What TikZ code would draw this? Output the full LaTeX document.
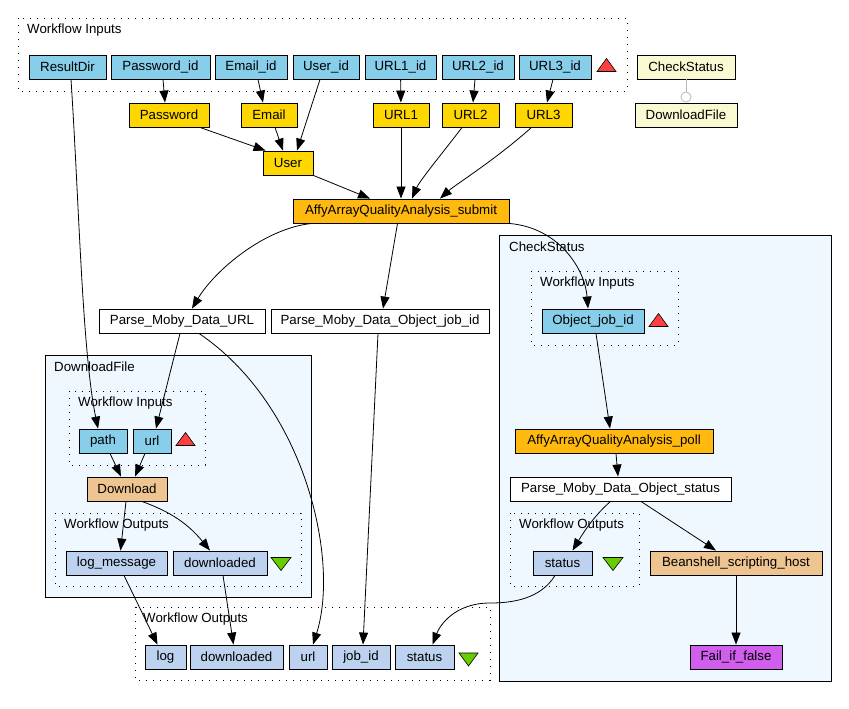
\documentclass[tikz,border=0pt]{standalone}
\usepackage{fontspec}
\setsansfont{Liberation Sans}
\usetikzlibrary{arrows.meta}

\definecolor{inportc}{RGB}{135,206,235}
\definecolor{outportc}{RGB}{188,210,238}
\definecolor{constc}{RGB}{255,215,0}
\definecolor{servicec}{RGB}{255,185,15}
\definecolor{beanc}{RGB}{238,197,145}
\definecolor{failc}{RGB}{209,95,238}
\definecolor{nestedc}{RGB}{250,250,210}
\definecolor{clusterc}{RGB}{240,248,255}
\definecolor{inmarkc}{RGB}{255,64,64}
\definecolor{outmarkc}{RGB}{102,205,0}

\tikzset{
  box/.style={draw,line width=.9pt,minimum height=24pt,inner sep=0pt,
    font=\sffamily\fontsize{13.3}{15}\selectfont},
  wd/.style={minimum width=#1},
  inport/.style={box,fill=inportc},
  outport/.style={box,fill=outportc},
  const/.style={box,fill=constc},
  service/.style={box,fill=servicec},
  bean/.style={box,fill=beanc},
  failbox/.style={box,fill=failc},
  nested/.style={box,fill=nestedc},
  plain/.style={box,fill=white},
  lbl/.style={anchor=west,inner sep=0pt,font=\sffamily\fontsize{13.3}{15}\selectfont},
  wfbox/.style={line width=.9pt,dash pattern=on 1.2pt off 5.8pt},
  nestbox/.style={draw,line width=.9pt,fill=clusterc},
  upmark/.style={draw,line width=.6pt,fill=inmarkc},
  downmark/.style={draw,line width=.6pt,fill=outmarkc},
  flow/.style={-{Triangle[length=12pt,width=9pt]},line width=.8pt},
  ctrl/.style={-{Circle[open,length=11pt,fill=white]},line width=.8pt,gray!55}
}

\begin{document}
\begin{tikzpicture}[x=1pt,y=-1pt]
  \useasboundingbox (0,0) rectangle (849,709);
  % clusters
  \draw[wfbox]   (18,18)   rectangle (627,91);
  \draw[nestbox] (45,355)  rectangle (311,597);
  \draw[wfbox]   (69,391)  rectangle (205,465);
  \draw[wfbox]   (55,513)  rectangle (301,586);
  \draw[nestbox] (499,235) rectangle (831,681);
  \draw[wfbox]   (531,271) rectangle (678,345);
  \draw[wfbox]   (510,513) rectangle (639,586);
  \draw[wfbox]   (135,607) rectangle (490,680);
  \node[lbl] (topin)  at (27,30)  {Workflow Inputs};
  \node[lbl] (dflbl)  at (54,367) {DownloadFile};
  \node[lbl] (dfin)   at (78,403) {Workflow Inputs};
  \node[lbl] (dfout)  at (64,525) {Workflow Outputs};
  \node[lbl] (cslbl)  at (509,247) {CheckStatus};
  \node[lbl] (csin)   at (540,283) {Workflow Inputs};
  \node[lbl] (csout)  at (519,525) {Workflow Outputs};
  \node[lbl] (botout) at (143,619) {Workflow Outputs};
  % workflow inputs
  \node[inport,wd=77]  (resultdir) at (67.5,67)  {ResultDir};
  \node[inport,wd=99]  (pwdid)     at (160.5,67) {Password\_id};
  \node[inport,wd=72]  (emailid)   at (251,67)   {Email\_id};
  \node[inport,wd=66]  (userid)    at (326,67)   {User\_id};
  \node[inport,wd=71]  (urlaid)    at (400.5,67) {URL1\_id};
  \node[inport,wd=72]  (urlbid)    at (478,67)   {URL2\_id};
  \node[inport,wd=72]  (urlcid)    at (555,67)   {URL3\_id};
  \node[nested,wd=98]  (checktop)  at (686,67)   {CheckStatus};
  \node[nested,wd=102] (downtop)   at (686,115)  {DownloadFile};
  % constants and services
  \node[const,wd=80]    (pwd)    at (169,115)   {Password};
  \node[const,wd=56]    (email)  at (269,115)   {Email};
  \node[const,wd=56]    (urla)   at (401,115)   {URL1};
  \node[const,wd=57]    (urlb)   at (470.5,115) {URL2};
  \node[const,wd=57]    (urlc)   at (543.5,115) {URL3};
  \node[const,wd=50]    (user)   at (288,163)   {User};
  \node[service,wd=216] (submit) at (401,211)   {AffyArrayQualityAnalysis\_submit};
  \node[plain,wd=166]   (parseurl) at (182,321) {Parse\_Moby\_Data\_URL};
  \node[plain,wd=218]   (parsejob) at (380,321) {Parse\_Moby\_Data\_Object\_job\_id};
  % DownloadFile
  \node[inport,wd=48]   (path)     at (103,441)   {path};
  \node[inport,wd=38]   (urlin)    at (152,441)   {url};
  \node[bean,wd=80]     (download) at (127,489)   {Download};
  \node[outport,wd=101] (logmsg)   at (116.5,563) {log\_message};
  \node[outport,wd=94]  (dlout)    at (220,563)   {downloaded};
  % CheckStatus
  \node[inport,wd=102]  (objjob)    at (593,321)   {Object\_job\_id};
  \node[service,wd=198] (poll)      at (614,441)   {AffyArrayQualityAnalysis\_poll};
  \node[plain,wd=221]   (parsestat) at (620.5,489) {Parse\_Moby\_Data\_Object\_status};
  \node[outport,wd=59]  (statin)    at (562.5,563) {status};
  \node[bean,wd=172]    (bean)      at (736,563)   {Beanshell\_scripting\_host};
  \node[failbox,wd=92]  (fail)      at (736,657)   {Fail\_if\_false};
  % workflow outputs
  \node[outport,wd=41] (log)    at (165.5,657) {log};
  \node[outport,wd=93] (dl)     at (236.5,657) {downloaded};
  \node[outport,wd=38] (urlout) at (308,657)   {url};
  \node[outport,wd=58] (jobid)  at (361,657)   {job\_id};
  \node[outport,wd=59] (status) at (424.5,657) {status};
  % port marks
  \draw[upmark]   (597,71.5)  -- (616,71.5)  -- (606.5,58.5) -- cycle;
  \draw[upmark]   (176,445.5) -- (195,445.5) -- (185.5,432.5) -- cycle;
  \draw[upmark]   (649,326.5) -- (668,326.5) -- (658.5,313.5) -- cycle;
  \draw[downmark] (271,557.5) -- (291,557.5) -- (281,570.5) -- cycle;
  \draw[downmark] (603,557.5) -- (623,557.5) -- (613,570.5) -- cycle;
  \draw[downmark] (459,653)   -- (478,653)   -- (468.5,666) -- cycle;
  % links
  \draw[ctrl] (checktop) -- (downtop);
  \draw[flow] ([xshift=3.5]resultdir.south) .. controls (79,200) and (82,350) .. ([xshift=-5]path.north);
  \draw[flow] ([xshift=2.5]pwdid.south) -- ([xshift=-4]pwd.north);
  \draw[flow] ([xshift=7]emailid.south) -- ([xshift=-6]email.north);
  \draw[flow] ([xshift=-6]userid.south) -- ([xshift=9]user.north);
  \draw[flow] (urlaid) -- (urla);
  \draw[flow] ([xshift=-3]urlbid.south) -- ([xshift=2.5]urlb.north);
  \draw[flow] ([xshift=-2]urlcid.south) -- ([xshift=3.5]urlc.north);
  \draw[flow] ([xshift=31]pwd.south) -- ([xshift=3]user.north west);
  \draw[flow] ([xshift=6]email.south) -- ([xshift=-5]user.north);
  \draw[flow] (user.south east) -- ([xshift=-31]submit.north);
  \draw[flow] (urla) -- (submit);
  \draw[flow] ([xshift=-8.5]urlb.south) .. controls (445,150) and (420,180) .. ([xshift=11]submit.north);
  \draw[flow] ([xshift=-12]urlc.south) .. controls (495,160) and (455,185) .. ([xshift=39]submit.north);
  \draw[flow] ([xshift=-89]submit.south) .. controls (265,228) and (215,270) .. ([xshift=10]parseurl.north);
  \draw[flow] ([xshift=-3.5]submit.south) -- ([xshift=3]parsejob.north);
  \draw[flow] (submit.south east) .. controls (560,228) and (585,270) .. ([xshift=-5]objjob.north);
  \draw[flow] ([xshift=-2]parseurl.south) -- ([xshift=4]urlin.north);
  \draw[flow] ([xshift=17]parseurl.south) .. controls (305,405) and (340,560) .. ([xshift=5]urlout.north);
  \draw[flow] ([xshift=-2]parsejob.south) -- ([xshift=2]jobid.north);
  \draw[flow] ([xshift=7]path.south) -- ([xshift=-6]download.north);
  \draw[flow] ([xshift=-7]urlin.south) -- ([xshift=8]download.north);
  \draw[flow] ([xshift=-1]download.south) -- ([xshift=4]logmsg.north);
  \draw[flow] ([xshift=15]download.south) .. controls (165,510) and (185,520) .. ([xshift=-10]dlout.north);
  \draw[flow] ([xshift=7.5]logmsg.south) -- ([xshift=-8]log.north);
  \draw[flow] ([xshift=3]dlout.south) -- ([xshift=-3]dl.north);
  \draw[flow] ([xshift=3]objjob.south) -- ([xshift=-4]poll.north);
  \draw[flow] ([xshift=2]poll.south) -- ([xshift=-2.5]parsestat.north);
  \draw[flow] ([xshift=-10]parsestat.south) .. controls (595,515) and (585,530) .. ([xshift=10]statin.north);
  \draw[flow] ([xshift=20.5]parsestat.south) -- ([xshift=-20]bean.north);
  \draw[flow] (bean) -- (fail);
  \draw[flow] ([xshift=-7.5]statin.south) .. controls (540,600) and (510,603) .. (490,603)
    .. controls (455,603) and (440,625) .. ([xshift=8]status.north);
\end{tikzpicture}
\end{document}
